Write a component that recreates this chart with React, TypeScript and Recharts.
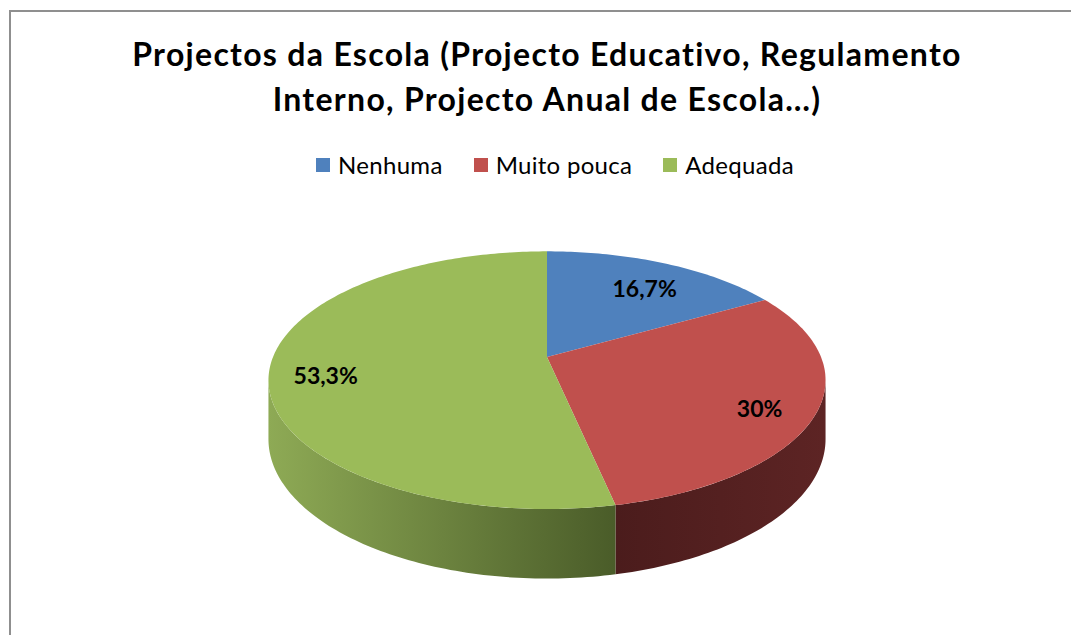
import React from 'react';
import { PieChart, Pie, Cell } from 'recharts';

const categories = ['Nenhuma', 'Muito pouca', 'Adequada'];
const percentages = [16.7, 30, 53.3];
const sliceColors = ['#4F81BD', '#C0504D', '#9BBB59'];
// side wall shading, left -> right
const wallLeft = ['#3a5f8c', '#4b1c1c', '#8eaa55'];
const wallRight = ['#2c4a6e', '#5d2424', '#4a5c29'];

const titleLines = [
  'Projectos da Escola (Projecto Educativo, Regulamento',
  'Interno, Projecto Anual de Escola…)',
];

const pieData = categories.map((name, i) => ({ name, value: percentages[i] }));

const FONT = 'Lato, "Open Sans", sans-serif';
const TILT = 0.455; // vertical squash of the disc
const PERSP = 0.18; // perspective strength
const DEPTH = 57; // wall height

// angle in recharts degrees (ccw from 3 o'clock), r = fraction of radius, drop 0 = top, 1 = bottom
const project = (cx: number, cy: number, radius: number, angle: number, r: number, drop: number) => {
  const a = (angle * Math.PI) / 180;
  const d = 1 + PERSP * r * Math.sin(a);
  return {
    x: cx + (radius * r * Math.cos(a)) / d,
    y: cy - (radius * TILT * r * Math.sin(a)) / d + (drop * DEPTH) / d,
  };
};

const arcPoints = (cx: number, cy: number, radius: number, from: number, to: number, drop: number) => {
  const steps = Math.max(2, Math.ceil(Math.abs(to - from)));
  const pts: string[] = [];
  for (let s = 0; s <= steps; s++) {
    const p = project(cx, cy, radius, from + ((to - from) * s) / steps, 1, drop);
    pts.push(`L${p.x.toFixed(2)},${p.y.toFixed(2)}`);
  }
  return pts;
};

const silhouette = (Math.asin(PERSP) * 180) / Math.PI;

const Slice3D = (props: any) => {
  const { cx, cy, outerRadius, startAngle, endAngle, fill } = props;
  const name = props.payload?.name ?? props.name;
  const idx = Math.max(0, categories.indexOf(name));
  const hi = Math.max(startAngle, endAngle);
  const lo = Math.min(startAngle, endAngle);

  const top = [`M${cx},${cy}`, ...arcPoints(cx, cy, outerRadius, startAngle, endAngle, 0), 'Z'].join(' ');

  const a1 = Math.max(lo, -180 + silhouette);
  const a2 = Math.min(hi, -silhouette);
  let wall: string | null = null;
  if (a1 < a2) {
    const upper = arcPoints(cx, cy, outerRadius, a2, a1, 0);
    const lower = arcPoints(cx, cy, outerRadius, a1, a2, 1);
    wall = ['M' + upper[0].slice(1), ...upper.slice(1), ...lower, 'Z'].join(' ');
  }

  return (
    <g>
      <defs>
        <linearGradient id={`wall-${idx}`} x1="0" y1="0" x2="1" y2="0">
          <stop offset="0" stopColor={wallLeft[idx]} />
          <stop offset="1" stopColor={wallRight[idx]} />
        </linearGradient>
      </defs>
      {wall && <path d={wall} fill={`url(#wall-${idx})`} />}
      <path d={top} fill={fill} />
    </g>
  );
};

const renderLabel = (props: any) => {
  const { cx, cy, midAngle, outerRadius, value } = props;
  const p = project(cx, cy, outerRadius, midAngle, 0.8, 0);
  return (
    <text
      x={p.x}
      y={p.y + 8}
      textAnchor="middle"
      dominantBaseline="central"
      fill="#000"
      fontFamily={FONT}
      fontWeight={700}
      fontSize={23}
    >
      {`${String(value).replace('.', ',')}%`}
    </text>
  );
};

export default function App() {
  return (
    <div
      style={{
        position: 'absolute',
        left: 0,
        top: 0,
        width: 1071,
        height: 635,
        overflow: 'hidden',
        background: '#fff',
        fontFamily: FONT,
      }}
    >
      {/* chart area frame */}
      <div
        style={{
          position: 'absolute',
          left: 9,
          top: 10,
          width: 1100,
          height: 700,
          borderTop: '2px solid #8f8f8f',
          borderLeft: '2px solid #8f8f8f',
        }}
      />

      <div style={{ position: 'absolute', left: 0, top: 0 }}>
        <PieChart width={1071} height={635} margin={{ top: 0, right: 0, bottom: 0, left: 0 }}>
          <Pie
            data={pieData}
            dataKey="value"
            nameKey="name"
            cx={547}
            cy={357}
            outerRadius={274}
            startAngle={90}
            endAngle={-270}
            stroke="none"
            isAnimationActive={false}
            shape={Slice3D}
            label={renderLabel}
            labelLine={false}
          >
            {pieData.map((entry, i) => (
              <Cell key={`cell-${entry.name}`} fill={sliceColors[i]} />
            ))}
          </Pie>
        </PieChart>
      </div>

      {/* title */}
      <div
        style={{
          position: 'absolute',
          left: 47,
          top: 31,
          width: 1000,
          textAlign: 'center',
          fontSize: 32,
          fontWeight: 700,
          letterSpacing: 1.3,
          lineHeight: '45px',
          color: '#000',
        }}
      >
        {titleLines.map((t) => (
          <div key={t}>{t}</div>
        ))}
      </div>

      {/* legend */}
      <div
        style={{
          position: 'absolute',
          left: 31,
          top: 151,
          width: 1048,
          display: 'flex',
          justifyContent: 'center',
          gap: 31,
          fontSize: 24,
          letterSpacing: 0.3,
          lineHeight: '28px',
          color: '#000',
        }}
      >
        {categories.map((c, i) => (
          <div key={c} style={{ display: 'flex', alignItems: 'center' }}>
            <span style={{ width: 14, height: 14, background: sliceColors[i], marginRight: 8 }} />
            {c}
          </div>
        ))}
      </div>
    </div>
  );
}
